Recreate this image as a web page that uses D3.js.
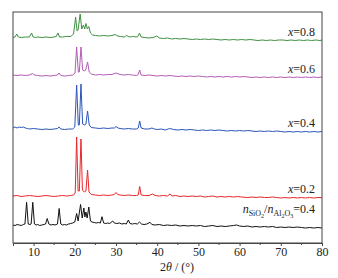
<!DOCTYPE html>
<html>
<head>
<meta charset="utf-8">
<script src="https://cdn.jsdelivr.net/npm/d3@7"></script>
<style>
  body { margin: 0; background: #fff; }
  svg text { font-family: "Liberation Serif", "Times New Roman", serif; fill: #222; }
</style>
</head>
<body>
<div id="chart"></div>
<script>
// 2theta (deg), intensity above each trace's offset (a.u.)
const black = [[5,4],[5.5,3.5],[6,4.5],[6.5,4],[7,3.5],[7.5,4.5],[7.9,5],[8.3,26.7],[8.7,5],[9.1,4.5],[9.4,5],[9.8,26.7],[10.2,5],[10.6,4],[11,4.5],[11.5,3.5],[12,4],[12.5,4.5],[12.9,5],[13.3,10.5],[13.7,5],[14.2,4],[14.7,4.5],[15.2,4],[15.8,5],[16.2,20.5],[16.6,5],[17,4],[17.5,4.5],[18,4],[18.5,5],[19,5.5],[19.5,6],[20,7],[20.45,15.5],[20.8,8],[21.4,24.5],[21.8,11],[22.2,21],[22.45,12],[22.7,17],[23,11],[23.4,22],[23.8,8],[24.2,7],[24.7,6.5],[25.2,6],[25.8,6.5],[26.2,6],[26.6,12.3],[27,6],[27.5,5.5],[28,6],[28.5,5.5],[29.2,8],[29.6,6],[30.2,5.5],[30.8,6],[31.4,5],[32,5.5],[32.5,5],[33,9],[33.4,5.5],[34,5],[34.5,5.5],[35.2,5],[35.7,7],[36.2,5],[36.8,4.5],[37.5,5],[38.25,6.7],[38.7,4.5],[39.5,4],[40.5,4.5],[41.5,3.5],[42.5,4],[43.5,3.5],[44.5,4],[45.5,3],[46.5,3.5],[47.5,3],[48.5,3.5],[49.5,3],[50.5,3.5],[51.5,2.5],[52.5,3],[53.5,3.5],[54.5,2.5],[55.5,3],[56.5,2.5],[57.5,3],[58.5,3.5],[59.3,4],[60,3],[61,2.5],[62,3],[63,2],[64,2.5],[65,2],[66,2.5],[67,2],[68,2.5],[69,1.5],[70,2],[71,1.5],[72,2],[73,1.5],[74,2],[75,1.5],[76,1],[77,1.5],[78,1],[79,1.5],[80,1]];

const red = [[5,3],[6,3.5],[7,2.5],[8,3],[9,3.5],[10,3],[11,2.5],[12,3],[13,3.5],[14,3],[15,2.5],[16,3],[17,3.5],[18,3],[19,3.5],[19.7,4],[20.1,6],[20.45,62],[20.8,8],[21.1,8],[21.5,60],[21.85,9],[22.3,7],[22.7,8],[23.1,29],[23.45,7],[24,4.5],[25,4],[26,3.5],[27,4],[28,3.5],[29,4],[29.6,4.5],[30,6.5],[30.4,4.5],[31,4],[32,3.5],[33,4],[34,3.5],[35,3.5],[35.4,4],[35.75,12.5],[36.1,4],[37,3.5],[38,3.5],[38.9,5],[39.5,3.5],[40.5,3],[41.5,3.5],[42.5,3],[43.1,5],[43.6,3],[44.5,3.5],[45.5,2.5],[46.5,3],[47.5,2.5],[48.5,3],[49.5,2.5],[50.5,3],[51.5,2],[52.5,2.5],[53.5,3],[54.5,2],[55.5,2.5],[56.5,2],[57.5,2.5],[58.5,2],[59.5,2.5],[60.5,2],[62,1.5],[63,2],[64,1.5],[65,2],[66,1.5],[67,1.5],[68,2],[69,1.5],[70,1],[71,1.5],[72,1],[73,1.5],[74,1],[75,1.5],[76,1],[77,1.5],[78,1],[79,1.5],[80,1.3]];

const blue = [[5,5],[5.5,6],[6,5],[6.5,6],[7,5.5],[7.5,6],[8,5],[8.5,4.5],[9,4],[10,4.5],[11,4],[12,3.5],[13,4],[14,3.5],[15,4],[15.8,4.5],[16.2,6],[16.6,4],[17.5,3.5],[18.5,4],[19.5,4],[20,6],[20.45,48],[20.85,8],[21.1,8],[21.5,49],[21.9,9],[22.4,8],[22.7,9],[23.1,22],[23.5,8],[24,5.5],[25,5],[26,4.5],[27,5],[28,4.5],[29,5],[29.6,5],[30,6.5],[30.5,5],[31,4.5],[32,4],[33,4.5],[34,4],[35,4],[35.4,5],[35.75,12],[36.1,5],[37,4],[38,4],[38.7,5],[39.3,4],[40,3.5],[41,4],[42,3],[43,4.5],[44,3.5],[45,3],[46,3.5],[47,3],[48,3.5],[49,3],[50,2.5],[51,3],[52,2.5],[53,3],[54,2.5],[55,3],[56,2.5],[57,2],[58,2.5],[59,2],[60,2.5],[61,2],[62,2.5],[63,2],[64,1.5],[65,2],[66,1.5],[67,2],[68,1.5],[69,2],[70,1.5],[71,1],[72,1.5],[73,1],[74,1.5],[75,1],[76,1.5],[77,1],[78,1.5],[79,1],[80,1.5]];

const magenta = [[5,4],[6,3.5],[7,4],[8,3.5],[9,4],[9.7,5.5],[10.2,4],[11,3.5],[12,3],[13,3.5],[14,3],[15,3.5],[15.8,4],[16.2,6],[16.6,3.5],[17.5,3],[18.5,3.5],[19.5,4],[20.05,6],[20.45,32],[20.85,7],[21.1,7],[21.5,32],[21.9,9],[22.4,8],[22.7,10],[23.1,17],[23.5,7],[24,5],[25,4],[26,4.5],[27,4],[28,4.5],[29,4.5],[30,6],[31,4.5],[32,4],[33,4.5],[34,4],[35,3.5],[35.4,4.5],[35.75,9],[36.1,4],[37,3.5],[38,4],[39,3.5],[40,3],[41,3.5],[42,3],[43,3.5],[44,3],[45,2.5],[46,3],[47,2.5],[48,3],[49,2.5],[50,3],[51,2.5],[52,2],[53,2.5],[54,2],[55,2.5],[56,2],[57,2.5],[58,2],[59,2.5],[60,2],[61,2.5],[62,2],[63,1.5],[64,2],[65,1.5],[66,2],[67,1.5],[68,2],[69,1.5],[70,2],[71,1.5],[72,2],[73,1.5],[74,2],[75,1.5],[76,2],[77,1.5],[78,2],[79,1.5],[80,2]];

const green = [[5,4.5],[5.5,5],[5.9,8],[6.3,5],[7,4.5],[8,5],[9,5],[9.5,9],[9.9,5],[10.5,4.5],[11,5],[12,4.5],[13,5],[14,4.5],[15,5],[15.5,5.5],[15.9,9],[16.3,5],[17,5],[18,5.5],[19,5.5],[19.7,8],[20.2,25],[20.55,11],[20.8,12],[21.3,28],[21.7,13],[22.1,17],[22.4,13],[22.7,18.5],[23.05,13],[23.4,15.5],[23.8,9],[24.3,7],[25,6.5],[26,6],[27,6.5],[28,6],[29,6.5],[29.8,7.5],[30.4,6],[31,5.5],[32,5],[32.6,6.5],[33.2,5],[34,5.5],[35,5],[35.3,5.5],[35.7,9],[36.1,5],[37,4.5],[38,4],[39,4.5],[39.9,6],[40.5,4],[41.5,3.5],[42.5,4],[43.5,3],[44.5,3.5],[45.5,3],[46.5,3.5],[47.5,3],[48.5,2.5],[49.5,3],[50.5,2.5],[51.5,3],[52.5,2.5],[53.5,3],[54.5,2.5],[55.5,2],[56.5,2.5],[57.5,2],[58.5,2.5],[59.5,2],[60.5,2.5],[61.5,2],[62.5,2.5],[63.5,2],[64.5,1.5],[65.5,2],[66.5,1.5],[67.5,2],[68.5,1.5],[69.5,2],[70.5,2],[71.5,1.5],[72.5,2],[73.5,1.5],[74.5,2],[75.5,1.5],[76.5,2],[77.5,1.5],[78.5,2],[79.5,1.5],[80,2]];

const seriesData = [black, red, blue, magenta, green];
const offsets = [14, 44, 110, 164, 201];
const colors = ["#111111", "#e8262b", "#2b55b8", "#b45cb4", "#3f8f42"];
const xValues = ["0.2", "0.4", "0.6", "0.8"];   // labels for red, blue, magenta, green
const ratioLabel = "0.4";
const majorTicks = [10, 20, 30, 40, 50, 60, 70, 80];
const minorTicks = [15, 25, 35, 45, 55, 65, 75];

const width = 338, height = 278;
const margin = {top: 12, right: 16, bottom: 35, left: 13};

const svg = d3.select("#chart").append("svg")
  .attr("width", width)
  .attr("height", height);

const x = d3.scaleLinear()
  .domain([5, 80])
  .range([margin.left, width - margin.right]);

const y = d3.scaleLinear()
  .domain([0, 231])
  .range([height - margin.bottom, margin.top]);

const line = d3.line()
  .x(d => x(d[0]))
  .y(d => y(d[1]));

// traces
seriesData.forEach((s, i) => {
  svg.append("path")
    .datum(s.map(d => [d[0], d[1] + offsets[i]]))
    .attr("fill", "none")
    .attr("stroke", colors[i])
    .attr("stroke-width", 1)
    .attr("stroke-linejoin", "round")
    .attr("d", line);
});

// frame
svg.append("rect")
  .attr("x", x(5))
  .attr("y", y(231))
  .attr("width", x(80) - x(5))
  .attr("height", y(0) - y(231))
  .attr("fill", "none")
  .attr("stroke", "#444")
  .attr("stroke-width", 1);

// x axis
const xAxis = svg.append("g")
  .attr("transform", `translate(0,${y(0)})`)
  .call(d3.axisBottom(x).tickValues(majorTicks).tickSize(3).tickPadding(1).tickFormat(d3.format("d")));
xAxis.select(".domain").attr("stroke", "#444");
xAxis.selectAll(".tick line").attr("stroke", "#444");
xAxis.selectAll(".tick text")
  .attr("font-size", 12)
  .attr("font-family", "Liberation Serif, serif")
  .attr("fill", "#222");

svg.append("g")
  .attr("transform", `translate(0,${y(0)})`)
  .selectAll("line")
  .data(minorTicks)
  .join("line")
  .attr("x1", d => x(d)).attr("x2", d => x(d))
  .attr("y1", 0).attr("y2", 2)
  .attr("stroke", "#444");

// axis title
const title = svg.append("text")
  .attr("x", 177)
  .attr("y", 271)
  .attr("text-anchor", "middle")
  .attr("font-size", 12);
title.append("tspan").text("2");
title.append("tspan").attr("font-style", "italic").text("θ");
title.append("tspan").text(" / (°)");

// series labels
const labelX = 315;
xValues.forEach((v, i) => {
  const t = svg.append("text")
    .attr("x", labelX)
    .attr("y", y(offsets[i + 1]) - 6)
    .attr("text-anchor", "end")
    .attr("font-size", 12);
  t.append("tspan").attr("font-style", "italic").text("x");
  t.append("tspan").text("=" + v);
});

const r = svg.append("text")
  .attr("x", labelX)
  .attr("y", y(offsets[0]) - 16)
  .attr("text-anchor", "end")
  .attr("font-size", 12);
r.append("tspan").attr("font-style", "italic").text("n");
r.append("tspan").attr("font-size", 8).attr("dy", 3).text("SiO");
r.append("tspan").attr("font-size", 6).attr("dy", 2).text("2");
r.append("tspan").attr("dy", -5).text("/");
r.append("tspan").attr("font-style", "italic").text("n");
r.append("tspan").attr("font-size", 8).attr("dy", 3).text("Al");
r.append("tspan").attr("font-size", 6).attr("dy", 2).text("2");
r.append("tspan").attr("font-size", 8).attr("dy", -2).text("O");
r.append("tspan").attr("font-size", 6).attr("dy", 2).text("3");
r.append("tspan").attr("dy", -5).text("=" + ratioLabel);
</script>
</body>
</html>
